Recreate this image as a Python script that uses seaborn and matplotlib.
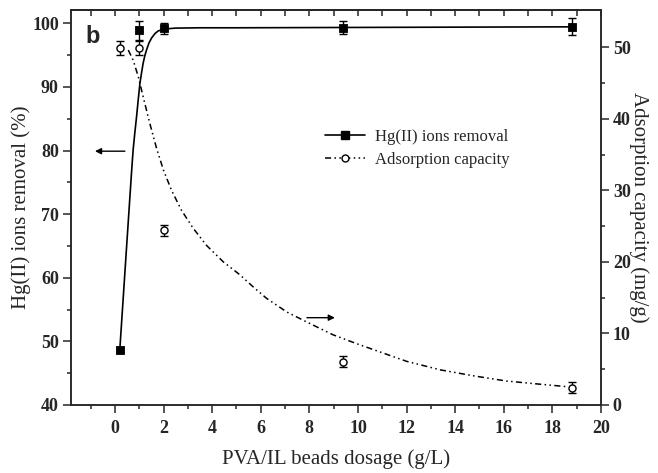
import matplotlib
matplotlib.use("Agg")
import matplotlib.pyplot as plt
from matplotlib.lines import Line2D
import seaborn as sns
import pandas as pd

# ---- data ----
dosage = [0.2, 1.0, 2.0, 9.4, 18.8]
removal = [48.6, 98.9, 99.2, 99.3, 99.5]
removal_err = [0.3, 1.5, 0.9, 1.05, 1.4]
capacity = [49.9, 49.9, 24.4, 6.05, 2.4]
capacity_err = [0.95, 0.95, 0.8, 0.8, 0.75]

removal_fit_x = [0.2, 0.45, 0.69, 0.75, 0.82, 0.89, 0.96, 1.03, 1.1, 1.16, 1.23, 1.3, 1.4, 1.51, 1.65,
                 1.78, 2.0, 2.5, 3.5, 5.0, 9.4, 14.0, 18.8]
removal_fit_y = [48.6, 63.1, 76.9, 80.1, 82.8, 85.3, 88.0, 90.6, 92.3, 93.7, 94.9, 95.8, 96.9, 97.7, 98.4,
                 98.8, 99.1, 99.25, 99.3, 99.3, 99.35, 99.4, 99.45]

capacity_fit_x = [0.55, 0.75, 0.96, 1.16, 1.44, 1.72, 2.0, 2.33, 2.74, 3.22, 3.77, 4.46, 5.14, 5.69, 6.24, 7.07,
                  7.89, 8.98, 10.0, 11.0, 12.0, 13.4, 14.8, 16.1, 17.5, 18.6]
capacity_fit_y = [49.6, 48.2, 45.9, 43.1, 39.3, 35.8, 32.8, 30.0, 27.2, 24.7, 22.3, 20.0, 18.2, 16.5, 14.9, 13.0,
                  11.6, 9.8, 8.5, 7.3, 6.1, 4.9, 4.05, 3.35, 2.9, 2.56]

x_ticks = [0, 2, 4, 6, 8, 10, 12, 14, 16, 18, 20]
left_ticks = [40, 50, 60, 70, 80, 90, 100]
right_ticks = [0, 10, 20, 30, 40, 50]

sns.set_style("ticks")
plt.rcParams["font.family"] = ["Liberation Serif", "DejaVu Serif"]

fig = plt.figure(figsize=(6.58, 4.73), dpi=100)
ax = fig.add_axes([0.1074, 0.1438, 0.8060, 0.8351])
ax2 = ax.twinx()

dashdotdot = (0, (4, 2.2, 1, 2.2, 1, 2.2))

pts = pd.DataFrame({"x": dosage, "removal": removal, "capacity": capacity})
fit1 = pd.DataFrame({"x": removal_fit_x, "y": removal_fit_y})
fit2 = pd.DataFrame({"x": capacity_fit_x, "y": capacity_fit_y})

sns.lineplot(data=fit1, x="x", y="y", ax=ax, color="black", lw=1.2, sort=False, estimator=None, zorder=2)
sns.lineplot(data=fit2, x="x", y="y", ax=ax2, color="black", lw=1.1, sort=False, estimator=None,
             linestyle=dashdotdot, zorder=2)

ax.errorbar(dosage, removal, yerr=removal_err, fmt="none", ecolor="black", elinewidth=1.0,
            capsize=2.6, capthick=1.0, zorder=3)
ax2.errorbar(dosage, capacity, yerr=capacity_err, fmt="none", ecolor="black", elinewidth=1.0,
             capsize=2.6, capthick=1.0, zorder=3)
sns.scatterplot(data=pts, x="x", y="removal", ax=ax, marker="s", s=28, color="black",
                edgecolor="black", linewidth=0.6, zorder=4)
sns.scatterplot(data=pts, x="x", y="capacity", ax=ax2, marker="o", s=26, facecolor="white",
                edgecolor="black", linewidth=1.0, zorder=4)

ax.set_xlim(-1.82, 20)
ax.set_ylim(40, 102.1)
ax2.set_ylim(0, 55.2)

ax.set_xticks(x_ticks)
ax.set_xticks([-1] + [t + 1 for t in x_ticks[:-1]], minor=True)
ax.set_yticks(left_ticks)
ax.set_yticks([45, 55, 65, 75, 85, 95], minor=True)
ax2.set_yticks(right_ticks)
ax2.set_yticks([5, 15, 25, 35, 45], minor=True)

tick_font = dict(fontsize=13, fontweight="bold")
ax.set_xticklabels([str(t) for t in x_ticks], **tick_font)
ax.set_yticklabels([str(t) for t in left_ticks], **tick_font)
ax2.set_yticklabels([str(t) for t in right_ticks], **tick_font)

ax.tick_params(axis="both", which="major", direction="out", length=5.5, width=1.1, pad=3, top=False, right=False)
ax.tick_params(axis="both", which="minor", direction="out", length=3, width=1.1, top=False, right=False)
ax.tick_params(axis="x", which="major", pad=5)
ax2.tick_params(axis="y", which="major", direction="out", length=5.5, width=1.1, pad=3)
ax2.tick_params(axis="y", which="minor", direction="out", length=3, width=1.1)

sec = ax.secondary_xaxis("top")
sec.set_xticks(list(range(-1, 21)))
sec.tick_params(axis="x", direction="in", length=4, width=1.1, labeltop=False)

for a in (ax, ax2):
    for s in a.spines.values():
        s.set_linewidth(1.1)
        s.set_visible(True)
for s in sec.spines.values():
    s.set_linewidth(1.1)

ax.set_xlabel("PVA/IL beads dosage (g/L)", fontsize=15, labelpad=9)
ax.set_ylabel("Hg(II) ions removal (%)", fontsize=15, labelpad=1)
ax2.set_ylabel("Adsorption capacity (mg/g)", fontsize=15, rotation=270, labelpad=13)

ax.annotate("", xy=(-0.82, 79.9), xytext=(0.41, 79.9),
            arrowprops=dict(arrowstyle="-|>", color="black", lw=1.0, mutation_scale=9, shrinkA=0, shrinkB=0))
ax2.annotate("", xy=(9.05, 12.2), xytext=(7.9, 12.2),
             arrowprops=dict(arrowstyle="-|>", color="black", lw=1.0, mutation_scale=9, shrinkA=0, shrinkB=0))

ax.text(0.027, 0.9165, "b", transform=ax.transAxes, fontsize=17, fontweight="bold",
        family=["Liberation Sans", "DejaVu Sans"], va="baseline", ha="left")

handles = [
    Line2D([], [], color="black", lw=1.2, marker="s", markersize=5.3),
    Line2D([], [], color="black", lw=1.1, linestyle=dashdotdot, marker="o", markersize=5.0,
           markerfacecolor="white", markeredgecolor="black"),
]
ax2.legend(handles, ["Hg(II) ions removal", "Adsorption capacity"], loc="upper left",
           bbox_to_anchor=(0.4795, 0.699), frameon=False, fontsize=12, handlelength=2.4,
           handletextpad=0.6, labelspacing=0.42, borderpad=0, borderaxespad=0)

fig.savefig("out.png", dpi=100)
